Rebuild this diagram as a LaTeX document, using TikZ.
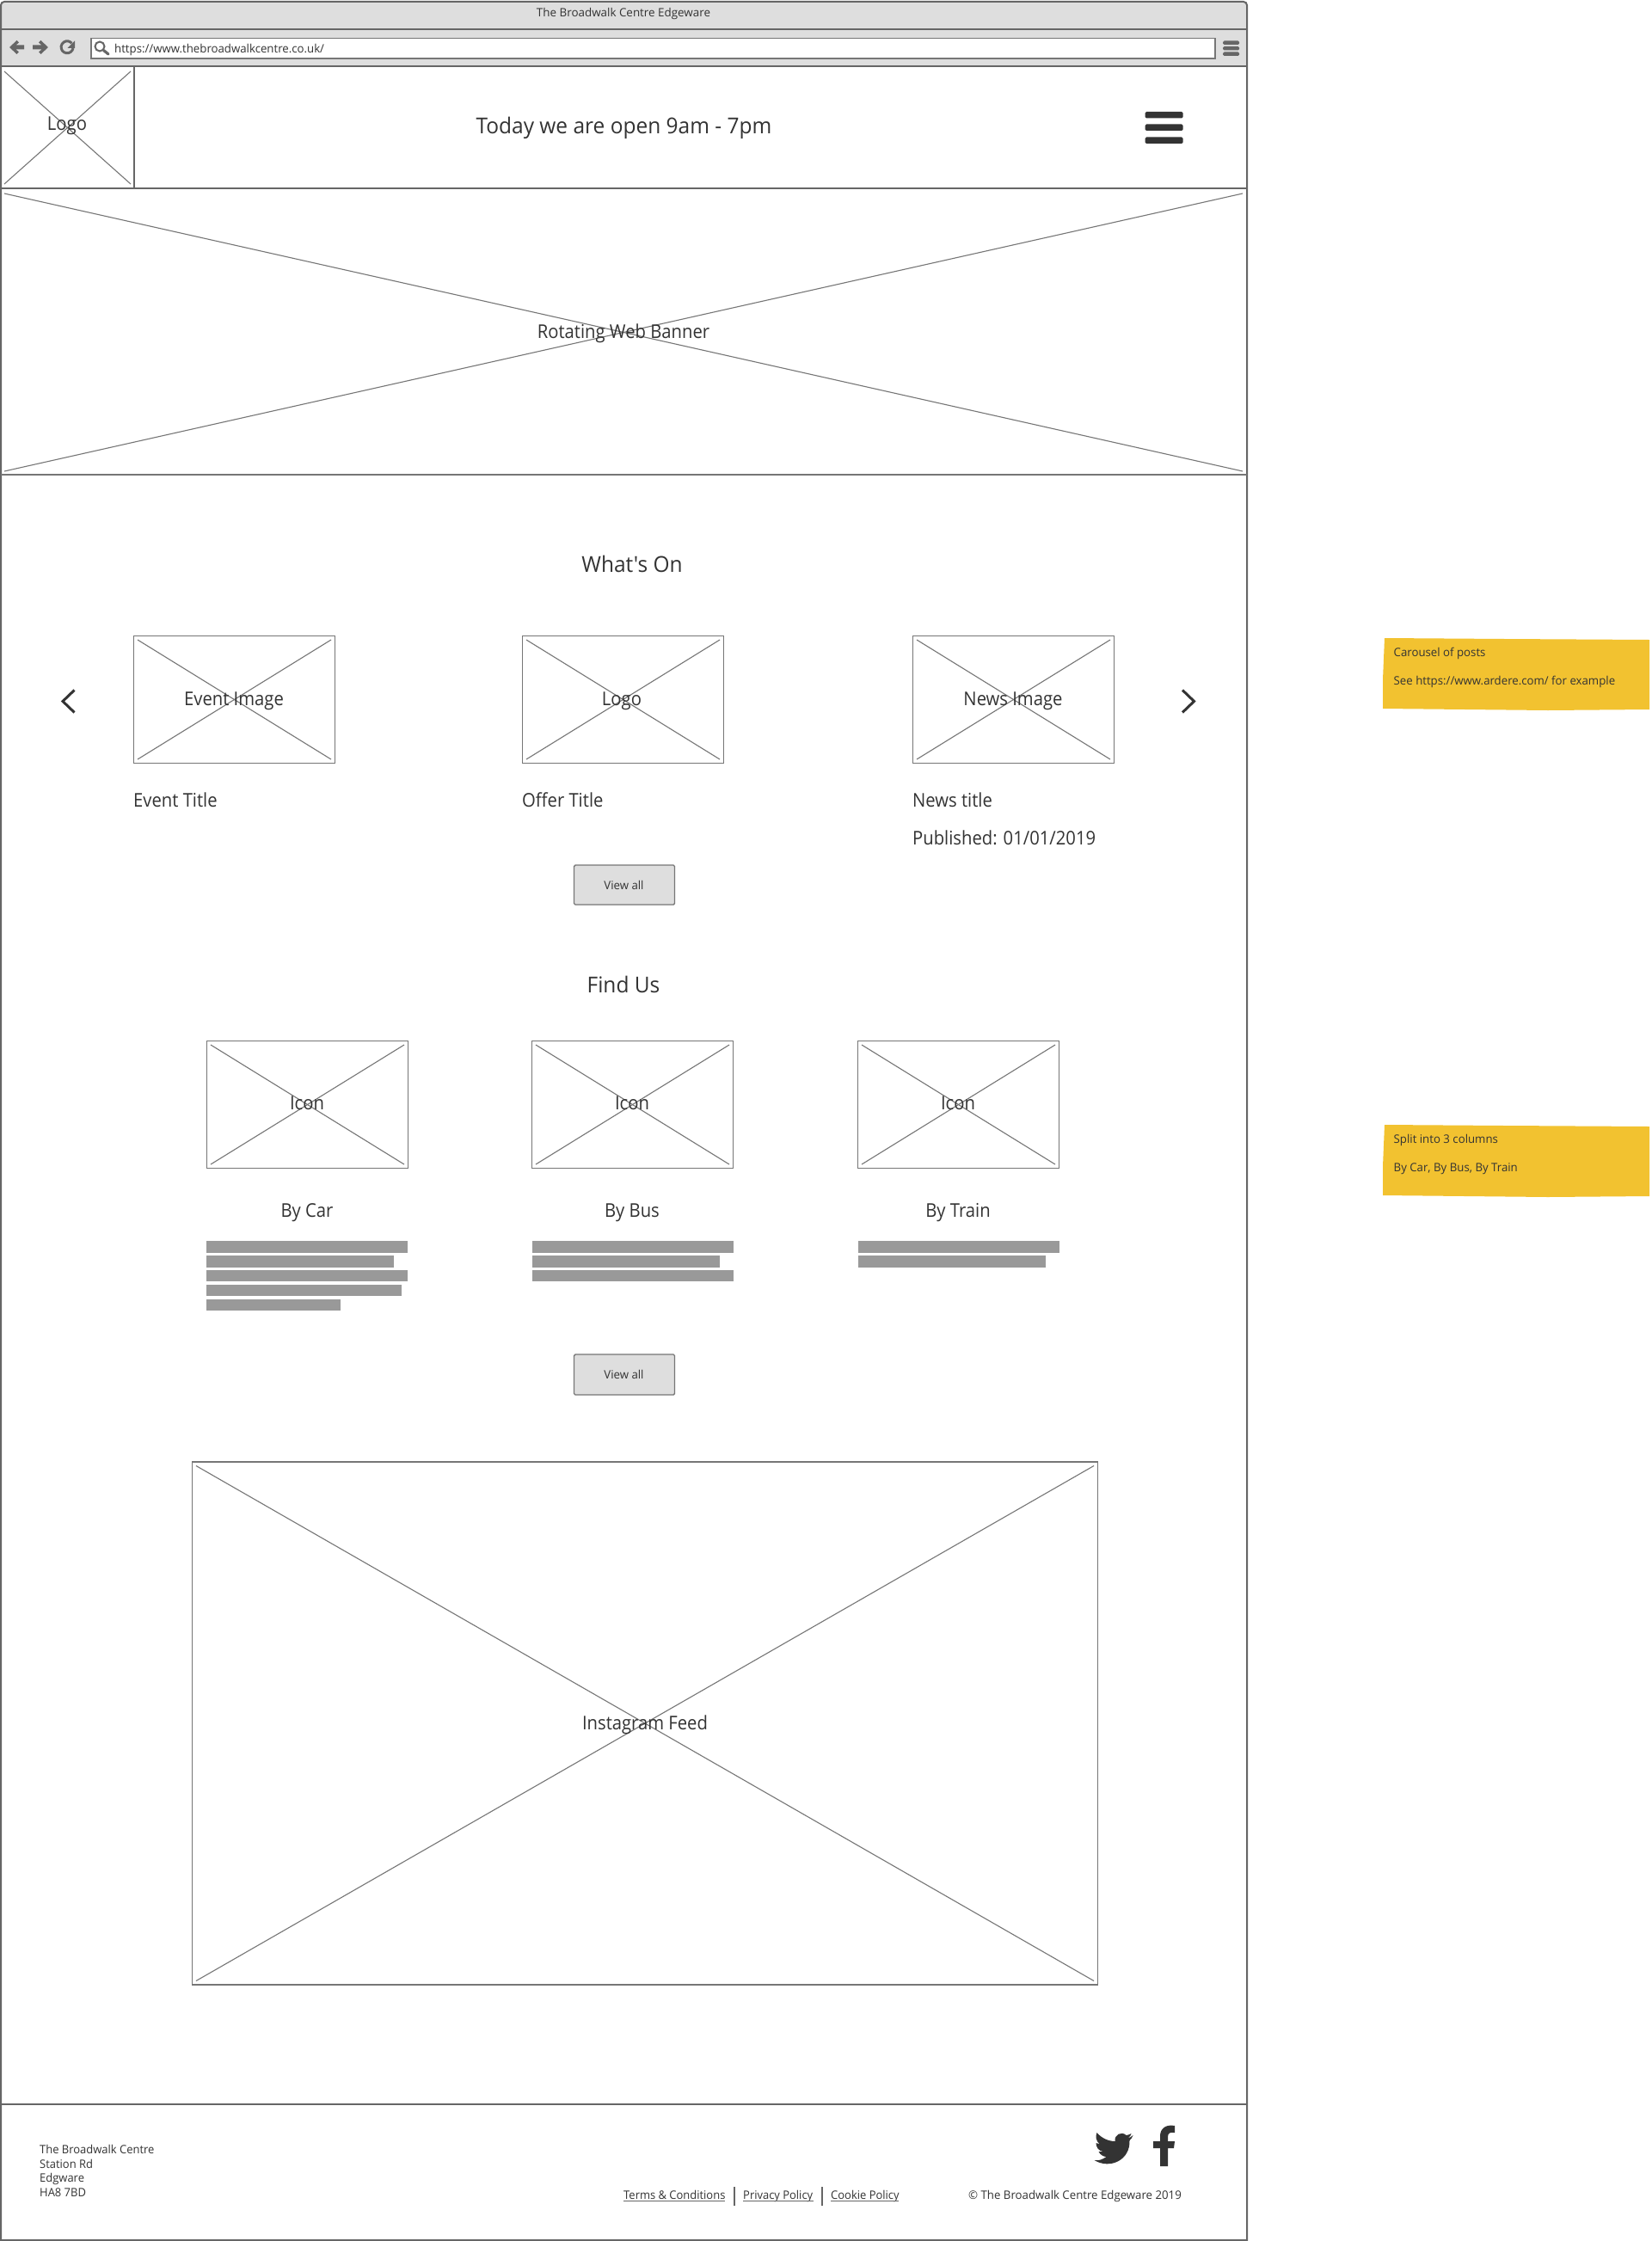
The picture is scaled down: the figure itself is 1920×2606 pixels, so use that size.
\documentclass[tikz,border=0pt]{standalone}
\usepackage{fontspec}
\setmainfont{Open Sans}
\newfontfamily\plainf{Open Sans}
\definecolor{ink}{HTML}{333333}
\definecolor{frameline}{HTML}{666666}
\definecolor{barfill}{HTML}{DEDEDE}
\definecolor{xline}{HTML}{767676}
\definecolor{notefill}{HTML}{F2C230}
\definecolor{lorem}{HTML}{999999}
\newcommand{\sizedfont}[3]{\fontsize{#1}{#2}\selectfont\addfontfeature{FakeStretch=#3}}
\tikzset{
  x=1pt,y=-1pt,
  frame/.style={draw=frameline,line width=2pt},
  imgbox/.style={draw=xline,line width=1.2pt,fill=white},
  cross/.style={draw=xline,line width=1.1pt},
  big/.style={font=\sizedfont{25.5}{25.5}{0.96},text=ink,inner sep=0pt},
  mid/.style={font=\sizedfont{22}{22}{0.92},text=ink,inner sep=0pt},
  small/.style={font=\sizedfont{13.5}{13.5}{0.98},text=ink,inner sep=0pt},
  smaller/.style={font=\sizedfont{13.5}{13.5}{0.96},text=ink,inner sep=0pt},
  btn/.style={draw=xline,line width=1.4pt,fill=barfill,rounded corners=1.5pt},
}
\newcommand{\imgx}[4]{% x0,y0,x1,y1
  \path[imgbox] (#1,#2) rectangle (#3,#4);
  \draw[cross] (#1+4.5,#2+4.5) -- (#3-4.5,#4-4.5);
  \draw[cross] (#1+4.5,#4-4.5) -- (#3-4.5,#2+4.5);
}
\begin{document}
\begin{tikzpicture}
\useasboundingbox (0,0) rectangle (1920,2606);
\fill[white] (0,0) rectangle (1920,2606);
% window
\path[fill=barfill] (1,2) -- (1446,2) to[out=0,in=90] (1450,6) -- (1450,77) -- (1,77) -- cycle;
\draw[frame] (1,2606) -- (1,6) to[out=90,in=180] (5,2) -- (1446,2) to[out=0,in=90] (1450,6) -- (1450,2606);
\draw[frame,line width=1.5pt] (1,34) -- (1450,34);
\draw[frame] (1,77) -- (1450,77);
\node[small,font=\sizedfont{13.4}{13.4}{1}] (title) at (725,16) {The Broadwalk Centre Edgeware};
\path[draw=xline,line width=1.5pt,fill=white] (106,44.5) rectangle (1413,68);
\node[small,anchor=west] (url) at (133,58) {https://www.thebroadwalkcentre.co.uk/};
% back, forward, reload
\fill[frameline] (11,55) -- (19.5,47) -- (22,49.5) -- (18.5,52.5) -- (28,52.5) -- (28,57.5) -- (18.5,57.5) -- (22,60.5) -- (19.5,63) -- cycle;
\fill[frameline] (56,55) -- (47.5,47) -- (45,49.5) -- (48.5,52.5) -- (38,52.5) -- (38,57.5) -- (48.5,57.5) -- (45,60.5) -- (47.5,63) -- cycle;
\draw[frameline,line width=3pt] (85,56) arc[start angle=10,end angle=320,radius=7];
\fill[frameline] (87,47.5) -- (87,56) -- (78.5,56) -- cycle;
% search
\draw[frameline,line width=2pt] (116,54) circle[radius=5.5];
\draw[frameline,line width=3.2pt,line cap=round] (120.5,58.5) -- (126,63);
% toolbar menu
\foreach \yy in {47.5,54,60.5}{\fill[frameline,rounded corners=1.5pt] (1422,\yy) rectangle (1441,\yy+4.5);}
% header
\draw[frame] (1,219) -- (1450,219);
\draw[frame] (156,77) -- (156,219);
\draw[cross] (5,83) -- (152,214);
\draw[cross] (5,214) -- (152,83);
\node[mid] (logotop) at (78,146) {Logo};
\node[big] (today) at (725.5,149) {Today we are open 9am - 7pm};
\foreach \yy in {130,144.5,159.5}{\fill[ink,rounded corners=1.5pt] (1331.5,\yy) rectangle (1375.5,\yy+7.5);}
% banner
\draw[cross] (5,225) -- (1445,548);
\draw[cross] (5,548) -- (1445,225);
\draw[xline,line width=1.2pt] (1,552) -- (1450,552);
\node[mid] (banner) at (725,388) {Rotating Web Banner};
% whats on
\node[big] (whatson) at (735,655.5) {\plainf\addfontfeature{FakeStretch=0.96}What's On};
\imgx{155.5}{739.5}{389.5}{887.5}
\imgx{607.5}{739.5}{841.5}{887.5}
\imgx{1061.5}{739.5}{1295.5}{887.5}
\node[mid] (l1) at (272,815) {Event Image};
\node[mid] (l2) at (723,815) {Logo};
\node[mid] (l3) at (1178,815) {News Image};
\node[mid,anchor=west] (t1) at (155,930) {Event Title};
\node[mid,anchor=west] (t2) at (607,930) {Offer Title};
\node[mid,anchor=west] (t3) at (1061,930) {News title};
\node[mid,anchor=west] (t4) at (1061,974) {Published: 01/01/2019};
\draw[ink,line width=3pt] (86.5,802.5) -- (73,815.5) -- (86.5,828.5);
\draw[ink,line width=3pt] (1375,802.5) -- (1388.5,815.5) -- (1375,828.5);
\path[btn] (667.5,1006) rectangle (784.5,1052);
\node[small] (v1) at (725.5,1029) {View all};
% find us
\node[big] (findus) at (725,1145) {Find Us};
\imgx{240.5}{1210.5}{474.5}{1358.5}
\imgx{618.5}{1210.5}{852.5}{1358.5}
\imgx{997.5}{1210.5}{1231.5}{1358.5}
\node[mid] (i1) at (357,1283) {Icon};
\node[mid] (i2) at (735,1283) {Icon};
\node[mid] (i3) at (1114,1283) {Icon};
\node[mid] (c1) at (357,1410) {By Car};
\node[mid] (c2) at (735,1410) {By Bus};
\node[mid] (c3) at (1114,1410) {By Train};
\fill[lorem] (240,1443) rectangle (474,1457);
\fill[lorem] (240,1460) rectangle (458,1473.5);
\fill[lorem] (240,1477) rectangle (474,1490);
\fill[lorem] (240,1494) rectangle (467,1507);
\fill[lorem] (240,1510.5) rectangle (396,1524);
\fill[lorem] (618.5,1443) rectangle (852.5,1457);
\fill[lorem] (618.5,1460) rectangle (836.5,1473.5);
\fill[lorem] (618.5,1477) rectangle (852.5,1490);
\fill[lorem] (997.5,1443) rectangle (1231.5,1457);
\fill[lorem] (997.5,1460) rectangle (1215.5,1473.5);
\path[btn] (667.5,1575) rectangle (784.5,1622);
\node[small] (v2) at (725.5,1598.5) {View all};
% instagram
\imgx{223.5}{1700}{1276.5}{2308}
\node[mid] (ig) at (750,2006) {Instagram Feed};
% footer
\draw[frame] (1,2447) -- (1450,2447);
\draw[frame] (1,2604.5) -- (1450,2604.5);
\node[smaller,anchor=base west] (ad1) at (46,2504) {The Broadwalk Centre};
\node[smaller,anchor=base west] (ad2) at (46,2521) {Station Rd};
\node[smaller,anchor=base west] (ad3) at (46,2537) {Edgware};
\node[smaller,anchor=base west] (ad4) at (46,2554) {HA8 7BD};
\node[smaller,anchor=base west] (n1) at (725,2557.5) {Terms \& Conditions};
\node[smaller,anchor=base west] (n2) at (864,2557.5) {Privacy Policy};
\node[smaller,anchor=base west] (n3) at (966,2557.5) {Cookie Policy};
\draw[frameline,line width=1pt] (725,2559.5) -- (843,2559.5);
\draw[frameline,line width=1pt] (864,2559.5) -- (946,2559.5);
\draw[frameline,line width=1pt] (966,2559.5) -- (1045,2559.5);
\draw[frameline,line width=1.1pt] (854,2543) -- (854,2565);
\draw[frameline,line width=1.1pt] (956,2543) -- (956,2565);
\node[small,anchor=base west] (copy) at (1126,2557.5) {© The Broadwalk Centre Edgeware 2019};
% twitter
\begin{scope}[xshift=-6.5pt]
\fill[ink] (1324,2483) .. controls (1322,2485) and (1320,2486) .. (1318,2486)
  .. controls (1320,2485) and (1322,2483) .. (1322,2481)
  .. controls (1320,2482) and (1318,2483) .. (1316,2483)
  .. controls (1311,2478) and (1302,2482) .. (1303,2490)
  .. controls (1295,2490) and (1287,2486) .. (1282,2480)
  .. controls (1280,2484) and (1281,2490) .. (1285,2493)
  .. controls (1283,2493) and (1282,2492) .. (1281,2492)
  .. controls (1281,2497) and (1284,2501) .. (1289,2502)
  .. controls (1287,2502) and (1286,2502) .. (1284,2502)
  .. controls (1286,2506) and (1290,2508) .. (1293,2508)
  .. controls (1289,2511) and (1284,2513) .. (1279,2512)
  .. controls (1297,2523) and (1321,2512) .. (1320,2489)
  .. controls (1322,2488) and (1323,2485) .. (1324,2483) -- cycle;
\end{scope}
% facebook
\begin{scope}[xshift=-8pt]
\fill[ink] (1374,2472) -- (1374,2480) .. controls (1368,2479) and (1366,2481) .. (1366,2485)
  -- (1366,2490) -- (1374,2490) -- (1373,2498) -- (1366,2498) -- (1366,2519) -- (1357,2519) -- (1357,2498)
  -- (1349,2498) -- (1349,2490) -- (1357,2490) -- (1357,2484) .. controls (1357,2475) and (1364,2470) .. (1374,2472) -- cycle;
\end{scope}
% notes
\fill[notefill] (1610,742) -- (1750,743) -- (1918,744) -- (1918,822) -- (1918,825) -- (1800,826) -- (1608,824) -- (1608,790) -- cycle;
\node[small,anchor=west] (na) at (1620.5,760) {Carousel of posts};
\node[small,anchor=west] (nb) at (1620.5,793) {See https://www.ardere.com/ for example};
\fill[notefill] (1610,1308) -- (1750,1309) -- (1918,1310) -- (1918,1388) -- (1918,1391) -- (1800,1392) -- (1608,1390) -- (1608,1356) -- cycle;
\node[small,anchor=west] (nc) at (1620.5,1326) {Split into 3 columns};
\node[small,anchor=west] (nd) at (1620.5,1359) {By Car, By Bus, By Train};
\end{tikzpicture}
\end{document}
